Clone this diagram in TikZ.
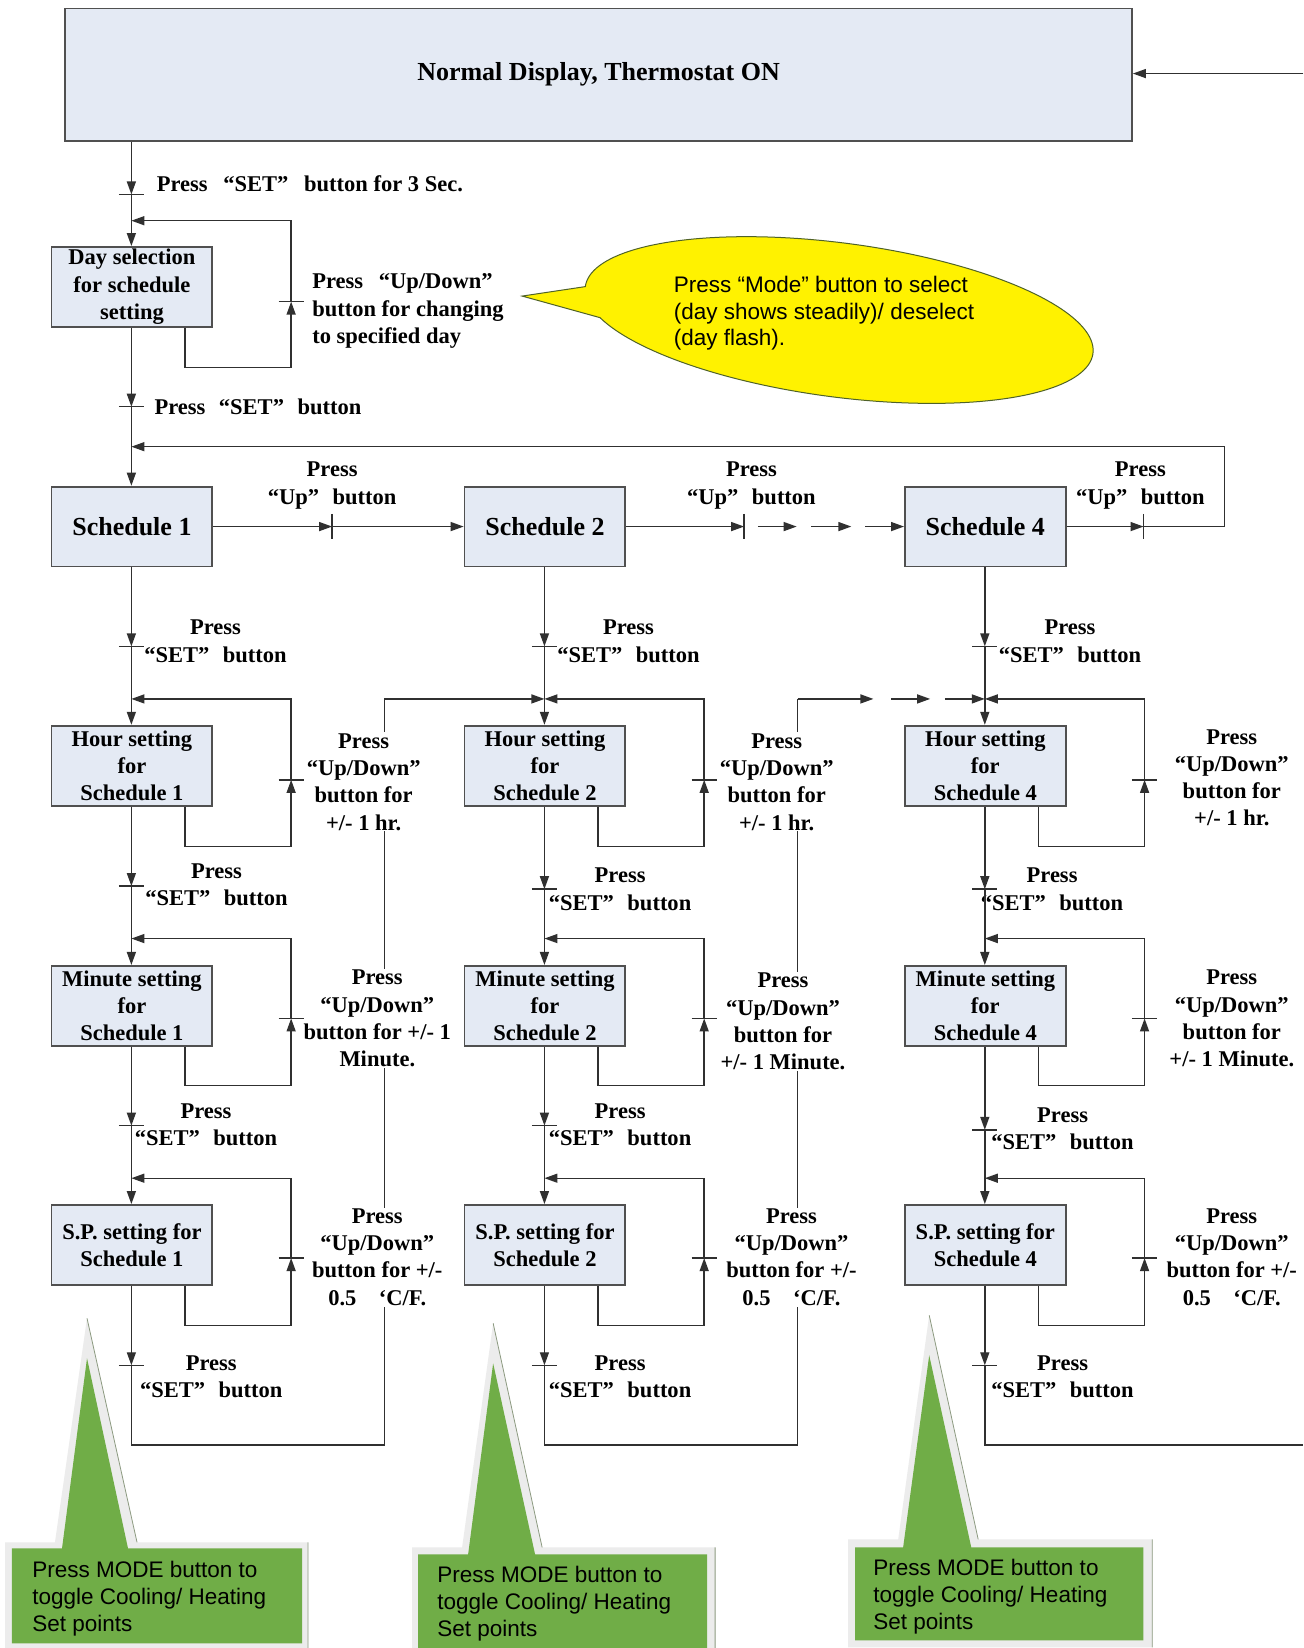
\documentclass[tikz,border=0pt]{standalone}
\usepackage{fontspec}
\setmainfont{Liberation Serif}
\newfontfamily\sansf{Liberation Sans}
\usetikzlibrary{arrows.meta}
\definecolor{boxfill}{HTML}{E4EAF4}
\definecolor{linec}{HTML}{303030}
\definecolor{boxline}{HTML}{505050}
\definecolor{calgreen}{HTML}{70AD47}
\definecolor{glowc}{HTML}{ECECEC}
\definecolor{olivec}{HTML}{4F6228}
\definecolor{shadowc}{HTML}{8C9A80}
\newcommand\lblf{\fontsize{22.5pt}{27.3pt}\selectfont\bfseries}
\newcommand\bigf{\fontsize{26pt}{30pt}\selectfont\bfseries}
\newcommand\sanf{\sansf\fontsize{22.5pt}{26.8pt}\selectfont}
\begin{document}
\begin{tikzpicture}[x=1.0508pt,y=-1.0508pt,
  conn/.style={draw=linec,line width=1.4pt},
  arr/.style={conn,-{Triangle[length=13pt,width=9pt]}},
  blk/.style={draw=boxline,line width=1.8pt,fill=boxfill,minimum width=160.8pt,minimum height=79.9pt,inner sep=0pt,align=center,font=\lblf},
  lbl/.style={font=\lblf,align=center,fill=white,inner sep=1pt},
  lbll/.style={font=\lblf,align=left,anchor=west,fill=white,inner sep=1pt},
  gtext/.style={font=\sanf,align=left,anchor=west,inner sep=0pt},
]
\path[fill=white,use as bounding box] (0,0) rectangle (1240,1568);

% named coordinates
\foreach \cx/\k/\yb/\yc in {125/1/843/1071,518/2/846/1071,937/4/846/1075}{
  \coordinate (jh\k) at (\cx,665);
  \coordinate (jm\k) at (\cx,893);
  \coordinate (jp\k) at (\cx,1121);
  \coordinate (ta\k) at (\cx,615);
  \coordinate (tb\k) at (\cx,\yb);
  \coordinate (tc\k) at (\cx,\yc);
  \coordinate (td\k) at (\cx,1299);
  \coordinate (bt\k) at (\cx,1375);
}
\coordinate (r1) at (366,1375);
\coordinate (r2) at (759,1375);
\coordinate (rc4) at (1240,1375);
\coordinate (rin) at (1240,70);

% long return lines (drawn first, labels cover them)
\draw[arr] (td1) -- (bt1) -- (r1) -- (366,665) -- (jh2);
\draw[conn] (td2) -- (bt2) -- (r2) -- (759,665);
\draw[arr] (759,665) -- (831,665);
\draw[arr] (848,665) -- (885,665);
\draw[arr] (899,665) -- (jh4);
\draw[conn] (td4) -- (bt4) -- (rc4);

% labels
\node[lbll] (lt) at (148,175) {Press\hspace{0.7em}“SET”\hspace{0.7em}button for 3 Sec.};
\node[lbll] (ld) at (296,296) {Press\hspace{0.7em}“Up/Down”\\button for changing\\to specified day};
\node[lbll] (ls) at (146,387) {Press\hspace{0.6em}“SET”\hspace{0.6em}button};
\node[lbl] (u1) at (316,462) {Press\\“Up”\hspace{0.6em}button};
\node[lbl] (u2) at (715,462) {Press\\“Up”\hspace{0.6em}button};
\node[lbl] (u4) at (1085,462) {Press\\“Up”\hspace{0.6em}button};

\node[lbl] (sa1) at (205,610) {Press\\“SET”\hspace{0.6em}button};
\node[lbl] (sb1) at (206,842) {Press\\“SET”\hspace{0.6em}button};
\node[lbl] (sc1) at (196,1070) {Press\\“SET”\hspace{0.6em}button};
\node[lbl] (sd1) at (201,1310) {Press\\“SET”\hspace{0.6em}button};
\node[lbl] (sa2) at (598,610) {Press\\“SET”\hspace{0.6em}button};
\node[lbl] (sb2) at (590,846) {Press\\“SET”\hspace{0.6em}button};
\node[lbl] (sc2) at (590,1070) {Press\\“SET”\hspace{0.6em}button};
\node[lbl] (sd2) at (590,1310) {Press\\“SET”\hspace{0.6em}button};
\node[lbl] (sa4) at (1018,610) {Press\\“SET”\hspace{0.6em}button};
\node[lbl] (sb4) at (1001,846) {Press\\“SET”\hspace{0.6em}button};
\node[lbl] (sc4) at (1011,1074) {Press\\“SET”\hspace{0.6em}button};
\node[lbl] (sd4) at (1011,1310) {Press\\“SET”\hspace{0.6em}button};

\node[lbl] (lh1) at (346,744) {Press\\“Up/Down”\\button for\\+/- 1 hr.};
\node[lbl] (lm1) at (359,969) {Press\\“Up/Down”\\button for +/- 1\\Minute.};
\node[lbl] (lp1) at (359,1196) {Press\\“Up/Down”\\button for +/-\\0.5\hspace{1em}‘C/F.};
\node[lbl] (lh2) at (739,744) {Press\\“Up/Down”\\button for\\+/- 1 hr.};
\node[lbl] (lm2) at (745,972) {Press\\“Up/Down”\\button for\\+/- 1 Minute.};
\node[lbl] (lp2) at (753,1196) {Press\\“Up/Down”\\button for +/-\\0.5\hspace{1em}‘C/F.};
\node[lbl] (lh4) at (1172,740) {Press\\“Up/Down”\\button for\\+/- 1 hr.};
\node[lbl] (lm4) at (1172,969) {Press\\“Up/Down”\\button for\\+/- 1 Minute.};
\node[lbl] (lp4) at (1172,1196) {Press\\“Up/Down”\\button for +/-\\0.5\hspace{1em}‘C/F.};

% boxes
\node[blk,minimum width=1066.6pt,minimum height=132.4pt,font=\bigf] (top) at (569.5,71) {Normal Display, Thermostat ON};
\node[blk] (day) at (125.5,273) {Day selection\\for schedule\\setting};
\foreach \cx/\k in {125/1,518/2,937/4}{
  \node[blk,font=\bigf] (s\k) at (\cx+0.5,501) {Schedule \k};
  \node[blk] (h\k) at (\cx+0.5,728.5) {Hour setting\\for\\Schedule \k};
  \node[blk] (m\k) at (\cx+0.5,957) {Minute setting\\for\\Schedule \k};
  \node[blk] (p\k) at (\cx+0.5,1184.5) {S.P. setting for\\Schedule \k};
}

% top part connectors
\coordinate (t0) at (125,185);
\coordinate (t1) at (125,387);
\draw[arr] (rin) -- (top.east |- rin);
\draw[arr] (t0 |- top.south) -- (t0);
\draw[conn] (113,185) -- (137,185);
\draw[arr] (t0) -- (t0 |- day.north);
\draw[arr] (day.south) ++(50.5,0) -- ++(0,38) -| (277,287);
\draw[conn] (265,287) -- (289,287);
\draw[arr] (277,287) |- (125,210);
\draw[arr] (t0 |- day.south) -- (t1);
\draw[conn] (113,387) -- (137,387);
\draw[arr] (t1) -- (t1 |- s1.north);

% schedule row
\draw[arr] (s1.east) -- (316,501);
\draw[conn] (316,489) -- (316,513);
\draw[arr] (316,501) -- (s2.west);
\draw[arr] (s2.east) -- (708,501);
\draw[conn] (708,489) -- (708,513);
\draw[arr] (721,501) -- (758,501);
\draw[arr] (772,501) -- (810,501);
\draw[arr] (823,501) -- (s4.west);
\draw[arr] (s4.east) -- (1088,501);
\draw[conn] (1088,489) -- (1088,513);
\draw[arr] (1088,501) -- (1165,501) -- (1165,425) -- (125,425);

% columns
\foreach \cx/\k/\yb/\yc in {125/1/843/1071,518/2/846/1071,937/4/846/1075}{
  \draw[arr] (ta\k |- s\k.south) -- (ta\k);
  \draw[conn] (\cx-12,615) -- (\cx+12,615);
  \draw[arr] (ta\k) -- (ta\k |- h\k.north);
  \draw[arr] (ta\k |- h\k.south) -- (tb\k);
  \draw[conn] (\cx-12,\yb) -- (\cx+12,\yb);
  \draw[arr] (tb\k) -- (ta\k |- m\k.north);
  \draw[arr] (ta\k |- m\k.south) -- (tc\k);
  \draw[conn] (\cx-12,\yc) -- (\cx+12,\yc);
  \draw[arr] (tc\k) -- (ta\k |- p\k.north);
  \draw[arr] (ta\k |- p\k.south) -- (td\k);
  \draw[conn] (\cx-12,1299) -- (\cx+12,1299);
  % loops
  \draw[arr] (h\k.south) ++(50.5,0) -- ++(0,38) -| (\cx+152,742);
  \draw[conn] (\cx+140,742) -- (\cx+164,742);
  \draw[arr] (\cx+152,742) |- (jh\k);
  \draw[arr] (m\k.south) ++(50.5,0) -- ++(0,37) -| (\cx+152,969);
  \draw[conn] (\cx+140,969) -- (\cx+164,969);
  \draw[arr] (\cx+152,969) |- (jm\k);
  \draw[arr] (p\k.south) ++(50.5,0) -- ++(0,38) -| (\cx+152,1197);
  \draw[conn] (\cx+140,1197) -- (\cx+164,1197);
  \draw[arr] (\cx+152,1197) |- (jp\k);
}

% yellow speech balloon
\draw[draw=olivec,line width=1pt,fill=yellow] (496.8,281.7) -- plot[domain=180:518,samples=160,variable=\t] ({798.4+241.51*cos(\t)-9.568*sin(\t)},{304.5+31.80*cos(\t)+72.67*sin(\t)}) -- cycle;
\node[gtext] (el) at (641,298) {Press “Mode” button to select\\(day shows steadily)/ deselect\\(day flash).};

% green callouts
\fill[glowc] (4.8,1467.5) -- (52.3,1467.5) -- (82.8,1254.3) -- (130.4,1467.5) -- (293.1,1467.5) -- (293.1,1568) -- (4.8,1568) -- cycle;
\draw[shadowc,line width=0.8pt] (82.8,1254.3) -- (130.4,1467.5) (293.1,1467.5) -- (293.1,1568);
\fill[calgreen] (11.4,1473.2) -- (59,1473.2) -- (82.8,1292.3) -- (121.8,1473.2) -- (287.4,1473.2) -- (287.4,1563.6) -- (11.4,1563.6) -- cycle;
\node[gtext] (g1) at (30.5,1521) {Press MODE button to\\toggle Cooling/ Heating\\Set points};

\fill[glowc] (392.1,1472.2) -- (439.7,1472.2) -- (469.2,1259) -- (515.8,1472.2) -- (680.4,1472.2) -- (680.4,1568) -- (392.1,1568) -- cycle;
\draw[shadowc,line width=0.8pt] (469.2,1259) -- (515.8,1472.2) (680.4,1472.2) -- (680.4,1568);
\fill[calgreen] (397.8,1478.9) -- (445.4,1478.9) -- (469.2,1297.1) -- (509.1,1478.9) -- (672.8,1478.9) -- (672.8,1568) -- (397.8,1568) -- cycle;
\node[gtext] (g2) at (415.9,1526) {Press MODE button to\\toggle Cooling/ Heating\\Set points};

\fill[glowc] (807,1464.6) -- (854.6,1464.6) -- (884.1,1251.4) -- (930.7,1464.6) -- (1096.3,1464.6) -- (1096.3,1567.4) -- (807,1567.4) -- cycle;
\draw[shadowc,line width=0.8pt] (884.1,1251.4) -- (930.7,1464.6) (1096.3,1464.6) -- (1096.3,1567.4);
\fill[calgreen] (813.7,1472.2) -- (859.3,1472.2) -- (884.1,1289.5) -- (924.1,1472.2) -- (1087.8,1472.2) -- (1087.8,1560.7) -- (813.7,1560.7) -- cycle;
\node[gtext] (g4) at (830.8,1519) {Press MODE button to\\toggle Cooling/ Heating\\Set points};
\end{tikzpicture}
\end{document}
